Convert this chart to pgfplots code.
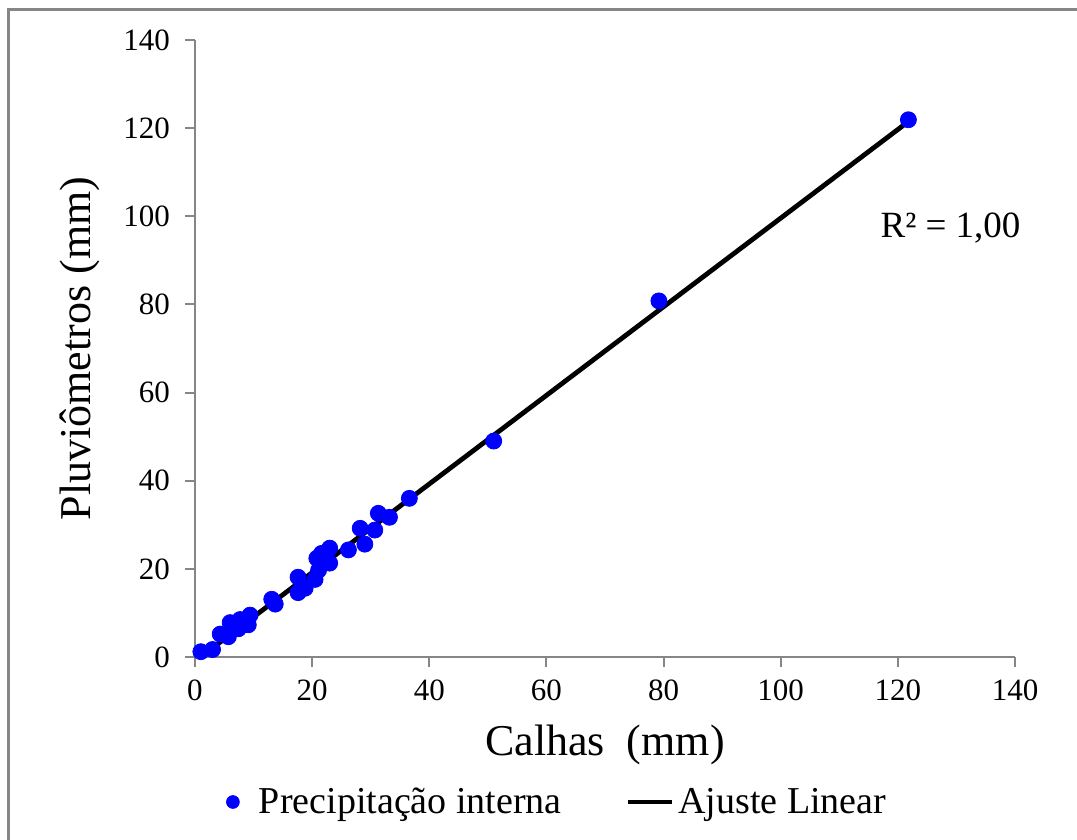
\documentclass[border=0pt]{standalone}
\usepackage{pgfplots}
\pgfplotsset{compat=1.18}
\usepackage{fontspec}
\setmainfont{Liberation Serif}

\definecolor{axgray}{RGB}{134,134,134}
\definecolor{ptblue}{RGB}{0,0,255}

% Calhas (mm) vs. pluviometros (mm)
\begin{document}
\begin{tikzpicture}
  \useasboundingbox (0pt,0pt) rectangle (538.5pt,420pt);
  % outer chart frame
  \draw[axgray,line width=1.5pt] (4pt,-10pt) rectangle (550pt,415pt);
  \begin{axis}[
    at={(97.5pt,91.5pt)}, anchor=south west,
    scale only axis,
    width=410pt, height=308.5pt,
    xmin=0, xmax=140, ymin=0, ymax=140,
    xtick={0,20,...,140}, ytick={0,20,...,140},
    axis x line=bottom, axis y line=left,
    axis line style={axgray,line width=1pt,-},
    tick style={axgray,line width=1pt},
    tick align=outside, major tick length=5pt,
    /pgf/number format/assume math mode=true,
    ticklabel style={font=\fontsize{15.5}{18}\selectfont},
    xticklabel style={yshift=-3pt},
    yticklabel style={xshift=-4pt},
    xlabel={Calhas\ \ (mm)},
    ylabel={Pluviômetros (mm)},
    label style={font=\fontsize{22}{26}\selectfont},
    xlabel style={at={(axis description cs:0.5,-0.143)},anchor=center},
    ylabel style={at={(axis description cs:-0.14,0.5)},anchor=center},
    legend columns=2,
    legend style={at={(axis description cs:0.443,-0.235)},anchor=center,
      draw=none,fill=none,font=\fontsize{19}{22}\selectfont,
      /tikz/every even column/.append style={column sep=30pt}},
    clip=false,
  ]
    \addplot[only marks, mark=*, mark size=4pt,
      mark options={draw=ptblue,fill=ptblue},
      legend image code/.code={\fill[ptblue] (0pt,0pt) circle (3.2pt);
        \path[draw=none,fill=none] (-3.2pt,-0.1pt) rectangle (11pt,0.1pt);}] coordinates {
      (1.0,1.2) (3.0,1.7) (4.3,5.2) (5.7,4.6) (6.0,7.8) (7.7,8.5)
      (7.4,6.4) (9.4,9.5) (9.1,7.3) (13.1,13.1) (13.7,12.0)
      (17.6,18.1) (17.6,14.6) (18.8,15.6) (20.5,17.6) (20.8,22.4)
      (21.1,19.7) (21.6,23.5) (23.0,24.7) (23.0,21.3) (26.2,24.3)
      (28.2,29.2) (29.0,25.6) (30.7,28.8) (31.3,32.6) (33.2,31.7)
      (36.6,36.0) (51.0,49.0) (79.2,80.8) (121.8,121.9)
    };
    \addlegendentry{Precipitação interna}
    \addplot[black, line width=2.4pt,
      legend image code/.code={\draw[black,line width=2.4pt] (0pt,0pt) -- (22pt,0pt);}]
      coordinates {(1.4,0.45) (121.8,121.5)};
    \addlegendentry{Ajuste Linear}
    \node[font=\fontsize{18.5}{22}\selectfont] at (axis cs:129,97.3) {R² = 1,00};
  \end{axis}
\end{tikzpicture}
\end{document}
